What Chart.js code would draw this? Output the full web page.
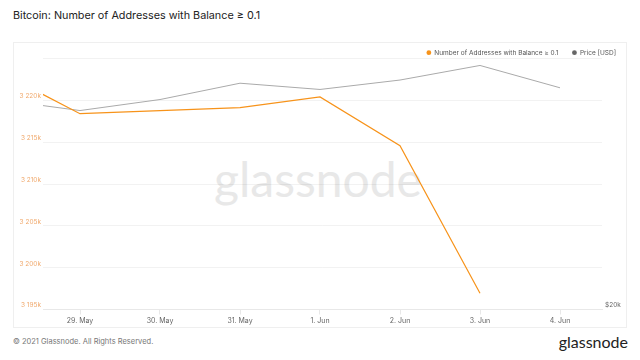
<!DOCTYPE html>
<html>
<head>
<meta charset="utf-8">
<script src="https://cdn.jsdelivr.net/npm/chart.js@4.4.0/dist/chart.umd.min.js"></script>
<style>
  html, body { margin: 0; padding: 0; background: #fff; }
  body { width: 640px; height: 360px; position: relative; overflow: hidden; font-family: Inter, "Noto Sans", sans-serif; }
  #title { position: absolute; left: 13px; top: 9px; font-size: 10.8px; color: #222; white-space: nowrap; }
  #card { position: absolute; left: 13px; top: 42px; width: 612px; height: 284px; border: 1px solid #efefef; box-sizing: content-box; }
  #wm { position: absolute; left: 0; width: 636px; top: 150px; text-align: center; font-family: Lato, "Noto Sans", sans-serif; font-size: 48px; color: #e8e8e8; }
  #foot { position: absolute; left: 13px; top: 337px; font-size: 7.5px; color: #777; }
  #logo { position: absolute; right: 12px; top: 332px; font-family: Lato, "Noto Sans", sans-serif; font-size: 16px; color: #222; }
  #wrap { position: absolute; left: 13px; top: 42px; width: 613px; height: 285px; }
</style>
</head>
<body>
<div id="title">Bitcoin: Number of Addresses with Balance ≥ 0.1</div>
<div id="card"></div>
<div id="wm">glassnode</div>
<div id="wrap"><canvas id="c" width="613" height="285"></canvas></div>
<div id="foot">© 2021 Glassnode. All Rights Reserved.</div>
<div id="logo">glassnode</div>
<script>
// Dates (x index: 28 May = -1, 29 May = 0, ...)
const dates = ['28. May', '29. May', '30. May', '31. May', '1. Jun', '2. Jun', '3. Jun', '4. Jun'];
const xTickLabels = ['29. May', '30. May', '31. May', '1. Jun', '2. Jun', '3. Jun', '4. Jun'];
// Number of addresses with balance >= 0.1 BTC
const addresses = [3223400, 3218420, 3218780, 3219140, 3220420, 3214590, 3196940, null];
// BTC price [USD]
const price = [35700, 34660, 35730, 37380, 36740, 37710, 39260, 36910];
// Legend dot colours
const legendColors = ['#f7931a', '#666666'];

const toXY = arr => arr.map((v, i) => ({ x: i - 1, y: v }));

// Simple custom legend, drawn at the top right of the card from the dataset labels
const legendPlugin = {
  id: 'topLegend',
  afterDraw(chart) {
    const ctx = chart.ctx;
    ctx.save();
    ctx.font = '6.5px Inter';
    ctx.textBaseline = 'middle';
    ctx.textAlign = 'left';
    const y = 10.7;
    let right = 603;
    const ds = chart.data.datasets;
    for (let i = ds.length - 1; i >= 0; i--) {
      const w = ctx.measureText(ds[i].label).width;
      const tx = right - w;
      ctx.fillStyle = '#555';
      ctx.fillText(ds[i].label, tx, y);
      ctx.beginPath();
      ctx.arc(tx - 5.5, y, 2.4, 0, Math.PI * 2);
      ctx.fillStyle = legendColors[i];
      ctx.fill();
      right = tx - 5.5 - 16;
    }
    ctx.restore();
  }
};

new Chart(document.getElementById('c'), {
  type: 'line',
  data: {
    datasets: [
      {
        label: 'Number of Addresses with Balance ≥ 0.1',
        data: toXY(addresses),
        borderColor: '#f7931a',
        backgroundColor: '#f7931a',
        borderWidth: 1.2,
        pointRadius: 0,
        yAxisID: 'y',
        tension: 0
      },
      {
        label: 'Price [USD]',
        data: toXY(price),
        borderColor: '#aaaaaa',
        backgroundColor: '#666666',
        borderWidth: 1,
        pointRadius: 0,
        yAxisID: 'y2',
        tension: 0
      }
    ]
  },
  plugins: [legendPlugin],
  options: {
    responsive: false,
    animation: false,
    layout: { padding: { top: 16.7, left: 0, right: 0, bottom: 0 } },
    plugins: {
      tooltip: { enabled: false },
      legend: { display: false }
    },
    scales: {
      x: {
        type: 'linear',
        min: -0.4625,
        max: 6.525,
        afterBuildTicks: s => {
          s.ticks = s.ticks
            .filter(t => Math.abs(t.value - Math.round(t.value)) < 1e-6)
            .map(t => ({ value: Math.round(t.value) }))
            .filter(t => t.value >= 0 && t.value < xTickLabels.length);
        },
        afterFit: s => { s.height = 17.5; },
        ticks: {
          stepSize: 1,
          includeBounds: false,
          autoSkip: false,
          maxRotation: 0,
          padding: 2,
          color: '#666',
          font: { family: 'Inter', size: 7 },
          callback: v => xTickLabels[Math.round(v)]
        },
        grid: { drawOnChartArea: false, drawTicks: true, tickLength: 5, color: '#e8e8e8' },
        border: { display: true, color: '#e8e8e8' }
      },
      y: {
        type: 'linear',
        position: 'left',
        min: 3195000,
        max: 3225000,
        afterFit: s => { s.width = 30; },
        ticks: {
          stepSize: 5000,
          padding: 2,
          labelOffset: -4,
          color: 'rgba(235,140,60,0.75)',
          font: { family: 'Inter', size: 6.5 },
          callback: v => {
            if (v >= 3225000) return '';
            const k = Math.round(v / 1000).toString();
            return k.replace(/\B(?=(\d{3})+(?!\d))/g, ' ') + 'k';
          }
        },
        grid: { color: 'rgba(0,0,0,0.05)', drawTicks: false },
        border: { display: false }
      },
      y2: {
        type: 'logarithmic',
        position: 'right',
        min: 20000,
        max: 40000,
        afterFit: s => { s.width = 24; },
        afterBuildTicks: s => { s.ticks = s.ticks.filter(t => t.value === 20000); },
        ticks: {
          padding: 3,
          labelOffset: -4,
          color: '#666',
          font: { family: 'Inter', size: 6.5 },
          callback: v => v === 20000 ? '$20k' : ''
        },
        grid: { display: false, drawTicks: false },
        border: { display: false }
      }
    }
  }
});
</script>
</body>
</html>
